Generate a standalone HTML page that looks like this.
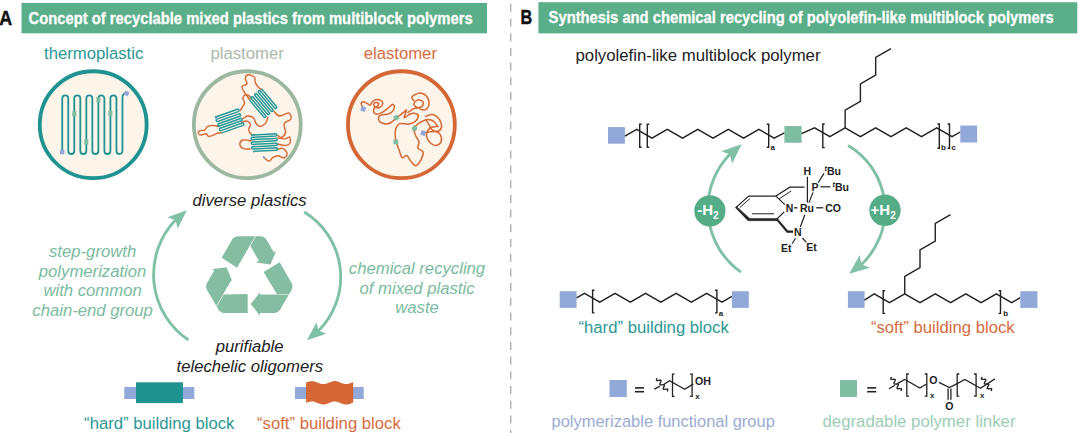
<!DOCTYPE html>
<html><head><meta charset="utf-8"><title>Recyclable multiblock polymers</title>
<style>html,body{margin:0;padding:0;background:#fff}svg{display:block}text{font-family:"Liberation Sans",sans-serif}</style>
</head><body>
<svg width="1080" height="433" viewBox="0 0 1080 433">
<rect width="1080" height="433" fill="#fff"/>
<rect x="21.5" y="3" width="465.5" height="30.3" fill="#5BAE8A"/>
<rect x="538.4" y="2.2" width="538.9" height="31.2" fill="#5BAE8A"/>
<text x="28.6" y="24.2" fill="#fff" font-size="17.4" font-weight="bold" text-anchor="start" textLength="444" lengthAdjust="spacingAndGlyphs" stroke="#fff" stroke-width="0.3">Concept of recyclable mixed plastics from multiblock polymers</text>
<text x="548.6" y="22.6" fill="#fff" font-size="17.4" font-weight="bold" text-anchor="start" textLength="505" lengthAdjust="spacingAndGlyphs" stroke="#fff" stroke-width="0.3">Synthesis and chemical recycling of polyolefin-like multiblock polymers</text>
<text x="-0.8" y="24.9" fill="#111" font-size="20.6" font-weight="bold" text-anchor="start" textLength="12.9" lengthAdjust="spacingAndGlyphs" stroke="#111" stroke-width="0.45">A</text>
<text x="520.5" y="24.2" fill="#111" font-size="20.6" font-weight="bold" text-anchor="start" textLength="11.7" lengthAdjust="spacingAndGlyphs" stroke="#111" stroke-width="0.45">B</text>
<line x1="510.7" y1="3.8" x2="510.7" y2="433" stroke="#b3b3b3" stroke-width="1.5" stroke-dasharray="8 6.7"/>
<text x="44" y="58.9" fill="#2C9795" font-size="16.7" text-anchor="start" >thermoplastic</text>
<text x="210.5" y="58.9" fill="#A9B9A9" font-size="16.7" text-anchor="start" >plastomer</text>
<text x="363.7" y="58.9" fill="#D66C3E" font-size="16.7" text-anchor="start" >elastomer</text>
<circle cx="93.2" cy="124.7" r="53.45" fill="#FDF4EA" stroke="#1F9390" stroke-width="3.8"/>
<circle cx="247.3" cy="124.7" r="53.45" fill="#FDF4EA" stroke="#9DB8A0" stroke-width="3.8"/>
<circle cx="401.4" cy="124.7" r="53.45" fill="#FDF4EA" stroke="#D56736" stroke-width="3.8"/>
<path d="M62.25,151.5 V98.41000000000001 A3.01,3.01 0 0 1 68.27,98.41000000000001 V150.99 A3.01,3.01 0 0 0 74.29,150.99 V98.41000000000001 A3.01,3.01 0 0 1 80.31,98.41000000000001 V150.99 A3.01,3.01 0 0 0 86.33,150.99 V98.41000000000001 A3.01,3.01 0 0 1 92.35,98.41000000000001 V150.99 A3.01,3.01 0 0 0 98.37,150.99 V98.41000000000001 A3.01,3.01 0 0 1 104.39,98.41000000000001 V150.99 A3.01,3.01 0 0 0 110.41,150.99 V98.41000000000001 A3.01,3.01 0 0 1 116.43,98.41000000000001 V150.99 A3.01,3.01 0 0 0 122.45,150.99 V97.9 Q122.44999999999996,93.9 125.94999999999996,92.9" fill="none" stroke="#1F9390" stroke-width="1.8"/>
<rect x="96.4" y="97.0" width="4.0" height="5.4" fill="#7EBDA2"/>
<rect x="72.3" y="111.0" width="4.0" height="5.4" fill="#7EBDA2"/>
<rect x="108.4" y="111.0" width="4.0" height="5.4" fill="#7EBDA2"/>
<rect x="84.3" y="139.10000000000002" width="4.0" height="5.4" fill="#7EBDA2"/>
<rect x="60.0" y="149.8" width="4.4" height="4.4" fill="#92A8D9" transform="rotate(0 62.25 152.0)"/>
<rect x="124.4" y="91.2" width="4.4" height="4.4" fill="#92A8D9" transform="rotate(20 126.6 93.4)"/>
<path d="M219.2,126.6 C218.0,126.4 214.0,125.4 212.0,125.4 C210.0,125.5 208.3,126.1 207.1,126.9 C205.9,127.7 205.9,129.5 204.7,130.1 C203.5,130.8 200.9,130.1 199.8,130.6 C198.8,131.2 198.0,132.6 198.2,133.4 C198.4,134.1 199.8,134.9 201.1,135.0 C202.5,135.0 205.1,133.5 206.3,133.7 C207.5,133.9 207.1,136.0 208.3,136.3 C209.4,136.5 211.7,135.8 213.1,135.3 C214.5,134.8 215.4,133.8 216.8,133.4 C218.3,132.9 220.9,132.8 221.7,132.7 " fill="none" stroke="#D56736" stroke-width="1.4" stroke-linejoin="round" stroke-linecap="round"/>
<path d="M240.3,110.4 C241.0,109.2 244.0,105.2 244.5,103.1 C244.9,101.1 242.7,99.7 242.8,98.3 C243.0,96.9 244.4,95.0 245.4,94.6 C246.5,94.2 248.1,95.1 249.2,95.9 C250.2,96.6 251.2,98.6 251.6,99.1 " fill="none" stroke="#D56736" stroke-width="1.4" stroke-linejoin="round" stroke-linecap="round"/>
<path d="M249.5,99.4 C248.5,98.0 244.6,92.9 243.4,90.7 C242.2,88.5 241.5,87.3 242.1,86.2 C242.7,85.0 246.4,85.2 247.0,83.9 C247.5,82.6 245.2,79.9 245.3,78.4 C245.5,76.9 246.4,75.1 247.9,74.8 C249.4,74.6 253.2,75.8 254.4,77.1 C255.6,78.5 254.6,81.1 255.4,82.9 C256.2,84.8 258.1,87.0 259.2,88.1 C260.4,89.2 261.7,89.5 262.2,89.7 " fill="none" stroke="#D56736" stroke-width="1.4" stroke-linejoin="round" stroke-linecap="round"/>
<path d="M241.7,122.3 C242.6,122.1 245.4,120.8 246.8,121.1 C248.3,121.5 250.1,123.0 250.4,124.4 C250.7,125.8 248.6,128.0 248.6,129.5 C248.7,131.1 249.9,132.7 250.7,133.7 C251.5,134.7 253.0,135.2 253.4,135.5 " fill="none" stroke="#D56736" stroke-width="1.4" stroke-linejoin="round" stroke-linecap="round"/>
<path d="M267.9,117.2 C267.5,118.2 267.0,121.4 265.8,122.9 C264.5,124.5 261.9,126.4 260.3,126.5 C258.7,126.6 257.3,125.0 256.1,123.5 C255.0,122.1 254.9,119.1 253.4,117.8 C252.0,116.6 249.1,115.9 247.4,116.0 C245.8,116.1 244.2,117.9 243.5,118.3 " fill="none" stroke="#D56736" stroke-width="1.4" stroke-linejoin="round" stroke-linecap="round"/>
<path d="M251.0,140.8 C249.7,140.7 244.8,139.5 242.9,140.0 C241.1,140.6 239.8,142.5 239.8,143.9 C239.8,145.3 241.2,147.6 242.9,148.4 C244.7,149.3 248.9,148.9 250.1,149.0 " fill="none" stroke="#D56736" stroke-width="1.4" stroke-linejoin="round" stroke-linecap="round"/>
<path d="M273.9,111.2 C274.8,112.0 277.1,115.7 279.6,116.0 C282.0,116.3 286.7,112.5 288.6,113.0 C290.5,113.5 291.7,117.3 291.0,119.0 C290.2,120.8 285.0,121.3 284.1,123.5 C283.2,125.8 286.0,130.2 285.6,132.5 C285.1,134.8 282.7,136.8 281.4,137.3 C280.1,137.8 278.4,135.8 277.8,135.5 " fill="none" stroke="#D56736" stroke-width="1.4" stroke-linejoin="round" stroke-linecap="round"/>
<path d="M277.3,137.9 C278.7,138.1 283.5,139.0 285.6,138.8 C287.6,138.7 288.7,136.3 289.5,137.0 C290.2,137.7 290.7,141.6 290.1,143.0 C289.4,144.4 287.7,145.3 285.6,145.4 C283.4,145.6 278.6,144.2 277.2,143.9 " fill="none" stroke="#D56736" stroke-width="1.4" stroke-linejoin="round" stroke-linecap="round"/>
<path d="M276.3,149.9 C277.3,149.7 280.8,147.7 282.6,148.3 C284.4,148.9 286.8,151.9 287.1,153.5 C287.3,155.2 285.6,157.7 284.1,158.0 C282.6,158.4 279.9,155.9 278.1,155.8 C276.2,155.7 274.5,156.6 273.0,157.4 C271.5,158.3 270.6,161.1 269.1,161.1 C267.6,161.1 264.8,158.0 263.9,157.4 " fill="none" stroke="#D56736" stroke-width="1.4" stroke-linejoin="round" stroke-linecap="round"/>
<circle cx="263.9" cy="157.3" r="1.2" fill="#92A8D9"/>
<circle cx="215.9" cy="117.6" r="1.2" fill="#92A8D9"/>
<path d="M-12.50,-8.51 H11.29 A1.215,1.215 0 0 1 11.29,-6.08 H-11.29 A1.215,1.215 0 0 0 -11.29,-3.65 H11.29 A1.215,1.215 0 0 1 11.29,-1.22 H-11.29 A1.215,1.215 0 0 0 -11.29,1.21 H11.29 A1.215,1.215 0 0 1 11.29,3.64 H-11.29 A1.215,1.215 0 0 0 -11.29,6.07 H11.29 A1.215,1.215 0 0 1 11.29,8.50 H-11.29 " fill="none" stroke="#279B99" stroke-width="1.5" transform="translate(229.6 121.1) rotate(-19.5)"/>
<path d="M-12.25,-8.22 H11.07 A1.175,1.175 0 0 1 11.07,-5.88 H-11.07 A1.175,1.175 0 0 0 -11.07,-3.52 H11.07 A1.175,1.175 0 0 1 11.07,-1.17 H-11.07 A1.175,1.175 0 0 0 -11.07,1.18 H11.07 A1.175,1.175 0 0 1 11.07,3.53 H-11.07 A1.175,1.175 0 0 0 -11.07,5.88 H11.07 A1.175,1.175 0 0 1 11.07,8.22 H-11.07 " fill="none" stroke="#279B99" stroke-width="1.5" transform="translate(263 103.3) rotate(50)"/>
<path d="M-13.00,-8.22 H11.82 A1.175,1.175 0 0 1 11.82,-5.88 H-11.82 A1.175,1.175 0 0 0 -11.82,-3.52 H11.82 A1.175,1.175 0 0 1 11.82,-1.17 H-11.82 A1.175,1.175 0 0 0 -11.82,1.18 H11.82 A1.175,1.175 0 0 1 11.82,3.53 H-11.82 A1.175,1.175 0 0 0 -11.82,5.88 H11.82 A1.175,1.175 0 0 1 11.82,8.22 H-11.82 " fill="none" stroke="#279B99" stroke-width="1.5" transform="translate(264.3 142.6) rotate(-3)"/>
<path d="M363.6,108.7 C363.2,107.9 361.3,105.0 361.2,103.8 C361.2,102.7 362.4,101.9 363.3,101.8 C364.2,101.7 365.6,102.6 366.8,103.2 C367.9,103.7 369.3,105.5 370.2,105.2 C371.1,105.0 371.4,102.7 372.3,101.8 C373.2,100.9 374.4,99.9 375.8,99.7 C377.2,99.5 379.5,99.7 380.6,100.4 C381.8,101.1 382.8,102.7 382.7,103.8 C382.6,105.0 381.1,106.7 379.9,107.3 C378.8,107.9 376.8,107.8 375.8,107.3 C374.7,106.9 373.7,105.4 373.7,104.5 C373.7,103.7 374.9,102.6 375.8,102.5 C376.6,102.3 378.6,102.9 378.8,103.6 C379.1,104.3 377.9,105.9 377.2,106.6 C376.4,107.4 375.0,107.1 374.4,108.0 C373.8,108.9 373.2,111.1 373.7,112.2 C374.2,113.2 375.7,114.2 377.2,114.2 C378.7,114.2 380.9,113.2 382.7,112.2 C384.5,111.1 386.6,109.3 388.2,108.0 C389.9,106.7 391.3,104.8 392.4,104.5 C393.4,104.3 394.5,105.5 394.5,106.6 C394.5,107.8 393.5,110.2 392.4,111.5 C391.2,112.7 389.4,113.7 387.6,114.2 C385.7,114.8 382.8,114.3 381.3,114.9 C379.8,115.5 378.8,116.5 378.5,117.7 C378.3,118.8 378.8,120.8 379.9,121.9 C381.1,122.9 383.6,123.8 385.5,123.9 C387.3,124.1 389.3,123.5 391.0,122.5 C392.7,121.6 393.9,120.0 395.9,118.4 C397.9,116.8 401.2,114.3 402.9,112.9 C404.7,111.5 406.3,109.4 406.5,110.1 C406.7,110.9 403.7,116.9 404.1,117.6 C404.6,118.3 407.5,115.2 409.2,114.5 C410.9,113.7 412.8,113.1 414.3,113.3 C415.8,113.5 418.1,114.3 418.3,115.6 C418.4,117.0 416.8,120.1 415.1,121.5 C413.4,123.0 410.5,124.0 408.0,124.3 C405.6,124.6 402.2,123.0 400.2,123.5 C398.2,124.0 397.1,125.7 396.3,127.4 C395.4,129.2 395.1,131.7 395.1,134.1 C395.1,136.5 395.6,139.4 396.3,142.0 C396.9,144.6 398.0,147.2 399.0,149.8 C400.0,152.5 400.8,156.7 402.2,157.7 C403.5,158.7 405.2,154.9 406.9,155.7 C408.5,156.6 410.4,161.2 412.0,162.8 C413.5,164.4 414.7,166.3 416.3,165.6 C417.9,164.8 420.7,160.4 421.8,158.1 C422.9,155.8 423.6,153.5 423.0,151.8 C422.3,150.1 418.5,149.5 417.9,147.9 C417.2,146.2 419.4,143.9 419.0,142.0 C418.7,140.0 416.8,138.3 415.9,136.1 C415.1,133.9 413.3,130.8 413.9,128.6 C414.6,126.4 417.5,124.2 419.8,122.7 C422.1,121.2 425.3,119.8 427.7,119.6 C430.0,119.4 432.3,120.4 434.0,121.5 C435.7,122.7 437.3,125.8 437.9,126.7 " fill="none" stroke="#D56736" stroke-width="1.5" stroke-linejoin="round" stroke-linecap="round"/>
<path d="M408.0,112.5 C409.0,111.9 411.6,109.6 413.9,108.6 C416.2,107.6 420.3,107.7 421.8,106.6 C423.3,105.5 423.6,103.0 423.0,101.9 C422.3,100.8 419.4,99.6 417.9,99.9 C416.4,100.3 413.9,102.6 413.9,103.9 C413.9,105.2 416.0,106.8 417.9,107.8 C419.7,108.8 423.1,110.3 424.9,109.8 C426.8,109.2 428.5,106.8 428.9,104.6 C429.2,102.5 428.4,98.8 426.9,96.8 C425.4,94.8 422.3,92.9 419.8,92.9 C417.3,92.9 413.0,95.5 412.0,96.8 C411.0,98.1 413.6,100.1 413.9,100.7 " fill="none" stroke="#D56736" stroke-width="1.5" stroke-linejoin="round" stroke-linecap="round"/>
<path d="M425.7,116.4 C426.9,116.1 430.5,113.9 432.8,114.5 C435.1,115.0 438.0,117.4 439.5,119.6 C440.9,121.7 441.8,125.5 441.4,127.4 C441.1,129.4 439.2,131.0 437.5,131.4 C435.9,131.7 433.1,130.6 431.6,129.4 C430.2,128.2 429.9,125.9 428.9,124.3 C427.9,122.7 426.3,120.4 425.7,119.6 " fill="none" stroke="#D56736" stroke-width="1.5" stroke-linejoin="round" stroke-linecap="round"/>
<path d="M423.2,133.1 C424.3,132.9 427.3,131.9 429.7,131.8 C432.0,131.6 435.6,131.1 437.5,132.2 C439.5,133.2 441.1,136.1 441.4,138.0 C441.8,140.0 440.8,142.8 439.5,143.9 C438.2,145.1 435.4,145.6 433.6,145.1 C431.8,144.7 430.0,142.8 428.9,141.2 C427.7,139.6 426.4,137.8 426.5,135.7 C426.6,133.5 427.8,129.8 429.7,128.2 C431.5,126.7 436.2,126.6 437.5,126.3 " fill="none" stroke="#D56736" stroke-width="1.5" stroke-linejoin="round" stroke-linecap="round"/>
<rect x="393.9" y="115.2" width="4.8" height="4.8" fill="#7EBDA2" transform="rotate(-25 396.2573673870334 117.61296660117878)"/>
<rect x="393.5" y="139.6" width="4.8" height="4.8" fill="#7EBDA2" transform="rotate(0 395.86444007858546 141.9744597249509)"/>
<rect x="412.1" y="126.0" width="4.8" height="4.8" fill="#7EBDA2" transform="rotate(20 414.5284872298625 128.41846758349706)"/>
<rect x="360.9" y="106.6" width="4.8" height="4.8" fill="#92A8D9" transform="rotate(20 363.2514734774067 108.96856581532417)"/>
<rect x="420.8" y="130.7" width="4.8" height="4.8" fill="#92A8D9" transform="rotate(20 423.1728880157171 133.13359528487229)"/>
<text x="192.5" y="206" fill="#222" font-size="16.7" font-style="italic" text-anchor="start" >diverse plastics</text>
<text x="92.6" y="256.6" fill="#7ABBA0" font-size="16.7" font-style="italic" text-anchor="middle" >step-growth</text>
<text x="92.6" y="276.5" fill="#7ABBA0" font-size="16.7" font-style="italic" text-anchor="middle" >polymerization</text>
<text x="92.6" y="296.4" fill="#7ABBA0" font-size="16.7" font-style="italic" text-anchor="middle" >with common</text>
<text x="92.6" y="316.4" fill="#7ABBA0" font-size="16.7" font-style="italic" text-anchor="middle" >chain-end group</text>
<text x="417" y="273.6" fill="#7ABBA0" font-size="16.7" font-style="italic" text-anchor="middle" >chemical recycling</text>
<text x="417" y="293.5" fill="#7ABBA0" font-size="16.7" font-style="italic" text-anchor="middle" >of mixed plastic</text>
<text x="417" y="313.3" fill="#7ABBA0" font-size="16.7" font-style="italic" text-anchor="middle" >waste</text>
<text x="249.6" y="352.0" fill="#222" font-size="16.7" font-style="italic" text-anchor="middle" >purifiable</text>
<text x="249.8" y="371.7" fill="#222" font-size="16.7" font-style="italic" text-anchor="middle" >telechelic oligomers</text>
<path d="M221.66,257.68 L231.90,239.94 Q234.00,236.30 238.20,236.30 L255.25,236.30 L237.09,267.74 Z M255.95,236.30 L260.40,236.30 Q264.60,236.30 266.70,239.94 L273.79,252.22 L276.22,250.82 L270.50,264.51 L255.78,262.62 L258.90,260.82 L250.34,246.01 Z M279.59,262.27 L291.48,282.86 Q293.58,286.50 291.48,290.14 L289.26,293.99 L276.90,293.99 L263.56,272.10 Z M288.91,294.60 L280.38,309.36 Q278.28,313.00 274.08,313.00 L259.90,313.00 L259.90,315.80 L250.90,304.00 L259.90,292.20 L259.90,294.60 Z M247.70,313.00 L224.52,313.00 Q220.32,313.00 218.22,309.36 L216.68,306.71 L223.67,294.61 L247.70,294.00 Z M216.33,306.10 L207.12,290.14 Q205.02,286.50 207.12,282.86 L214.21,270.58 L211.78,269.18 L226.50,267.29 L232.22,280.98 L231.18,280.38 Z " fill="#85BDA2"/>
<path d="M188.38,340.01 A78.9,78.9 0 0 1 175.46,220.08" fill="none" stroke="#80C1A6" stroke-width="2.9"/>
<path d="M186.79,210.29 L177.74,228.64 L175.64,220.31 L167.58,217.33 Z" fill="#80C1A6"/>
<path d="M304.20,212.06 A76.2,76.2 0 0 1 318.55,330.81" fill="none" stroke="#80C1A6" stroke-width="2.9"/>
<path d="M307.00,340.35 L316.46,322.20 L318.38,330.57 L326.36,333.73 Z" fill="#80C1A6"/>
<rect x="124.3" y="387" width="70" height="12" fill="#92A8D9"/>
<rect x="136" y="382.3" width="46.9" height="20.8" fill="#1F9390"/>
<rect x="295" y="387" width="68.7" height="12" fill="#92A8D9"/>
<path d="M306.1,382.6 L307.3,382.1 L308.5,381.7 L309.6,381.4 L310.8,381.2 L312.0,381.1 L313.2,381.2 L314.3,381.4 L315.5,381.8 L316.7,382.3 L317.9,382.7 L319.1,383.2 L320.2,383.6 L321.4,383.9 L322.6,384.1 L323.8,384.1 L324.9,384.0 L326.1,383.7 L327.3,383.3 L328.5,382.8 L329.6,382.4 L330.8,381.9 L332.0,381.5 L333.2,381.2 L334.4,381.1 L335.5,381.1 L336.7,381.3 L337.9,381.6 L339.1,382.0 L340.2,382.5 L341.4,383.0 L342.6,383.4 L343.8,383.8 L345.0,384.0 L346.1,384.1 L347.3,384.0 L348.5,383.8 L349.7,383.5 L350.8,383.1 L352.0,382.6 L353.2,382.1 L353.2,402.5 L352.0,403.0 L350.8,403.5 L349.7,403.9 L348.5,404.2 L347.3,404.4 L346.1,404.5 L345.0,404.4 L343.8,404.2 L342.6,403.8 L341.4,403.4 L340.2,402.9 L339.1,402.4 L337.9,402.0 L336.7,401.7 L335.5,401.5 L334.4,401.5 L333.2,401.6 L332.0,401.9 L330.8,402.3 L329.6,402.8 L328.5,403.2 L327.3,403.7 L326.1,404.1 L324.9,404.4 L323.8,404.5 L322.6,404.5 L321.4,404.3 L320.2,404.0 L319.1,403.6 L317.9,403.1 L316.7,402.7 L315.5,402.2 L314.3,401.8 L313.2,401.6 L312.0,401.5 L310.8,401.6 L309.6,401.8 L308.5,402.1 L307.3,402.5 L306.1,403.0Z" fill="#D56736"/>
<text x="84.1" y="429.1" fill="#2C9795" font-size="16.7" text-anchor="start" >“hard” building block</text>
<text x="257" y="429.1" fill="#D66C3E" font-size="16.7" text-anchor="start" >“soft” building block</text>
<text x="575.5" y="61.0" fill="#222" font-size="16.7" text-anchor="start" textLength="245" lengthAdjust="spacingAndGlyphs">polyolefin-like multiblock polymer</text>
<rect x="608.0" y="127.1" width="16.9" height="16.6" fill="#92A8D9"/>
<path d="M624.90,136.20 L636.70,129.30 L651.97,138.10 L667.24,129.30 L682.51,138.10 L697.78,129.30 L713.05,138.10 L728.32,129.30 L743.59,138.10 L758.86,129.30 L774.13,138.10 L784.40,132.90" fill="none" stroke="#222" stroke-width="1.4" stroke-linejoin="miter"/>
<path d="M641.60,124.30 L639.70,124.30 L639.70,147.30 L641.60,147.30" fill="none" stroke="#222" stroke-width="1.4" stroke-linejoin="miter"/>
<path d="M649.20,124.30 L647.30,124.30 L647.30,147.30 L649.20,147.30" fill="none" stroke="#222" stroke-width="1.4" stroke-linejoin="miter"/>
<path d="M766.80,124.30 L768.70,124.30 L768.70,147.30 L766.80,147.30" fill="none" stroke="#222" stroke-width="1.4" stroke-linejoin="miter"/>
<text x="770.6" y="150.2" fill="#222" font-size="8.0" font-weight="bold" text-anchor="start" >a</text>
<rect x="784.4" y="126.0" width="17.2" height="16.8" fill="#7EBDA2"/>
<path d="M801.50,133.60 L814.60,127.80 L829.87,136.60 L845.14,127.80 L860.41,136.60 L875.68,127.80 L890.95,136.60 L906.22,127.80 L921.49,136.60 L936.76,127.80 L952.03,136.60 L960.30,132.00" fill="none" stroke="#222" stroke-width="1.4" stroke-linejoin="miter"/>
<path d="M845.14,127.80 L845.14,110.20 L860.41,101.40 L860.41,83.80 L875.68,75.00 L875.68,57.40 L890.95,48.60" fill="none" stroke="#222" stroke-width="1.4" stroke-linejoin="miter"/>
<path d="M824.70,124.00 L822.80,124.00 L822.80,147.60 L824.70,147.60" fill="none" stroke="#222" stroke-width="1.4" stroke-linejoin="miter"/>
<path d="M937.40,124.00 L939.30,124.00 L939.30,148.20 L937.40,148.20" fill="none" stroke="#222" stroke-width="1.4" stroke-linejoin="miter"/>
<path d="M947.60,124.00 L949.50,124.00 L949.50,148.20 L947.60,148.20" fill="none" stroke="#222" stroke-width="1.4" stroke-linejoin="miter"/>
<text x="941.0" y="149.6" fill="#222" font-size="8.0" font-weight="bold" text-anchor="start" >b</text>
<text x="951.4" y="149.6" fill="#222" font-size="8.0" font-weight="bold" text-anchor="start" >c</text>
<rect x="960.3" y="125.5" width="16.8" height="17" fill="#92A8D9"/>
<rect x="559.7" y="291.2" width="16.9" height="16.7" fill="#92A8D9"/>
<path d="M576.60,297.90 L584.50,293.40 L599.77,302.20 L615.04,293.40 L630.31,302.20 L645.58,293.40 L660.85,302.20 L676.12,293.40 L691.39,302.20 L706.66,293.40 L721.93,302.20 L731.90,296.30" fill="none" stroke="#222" stroke-width="1.4" stroke-linejoin="miter"/>
<path d="M594.50,290.30 L592.60,290.30 L592.60,312.90 L594.50,312.90" fill="none" stroke="#222" stroke-width="1.4" stroke-linejoin="miter"/>
<path d="M715.00,290.30 L716.90,290.30 L716.90,312.90 L715.00,312.90" fill="none" stroke="#222" stroke-width="1.4" stroke-linejoin="miter"/>
<text x="718.8" y="315.8" fill="#222" font-size="8.0" font-weight="bold" text-anchor="start" >a</text>
<rect x="731.9" y="291.2" width="16.9" height="16.7" fill="#92A8D9"/>
<text x="578.5" y="332.8" fill="#2C9795" font-size="16.7" text-anchor="start" >“hard” building block</text>
<g transform="translate(0.6 0.5)">
<rect x="847.3" y="290.7" width="16.7" height="16.7" fill="#92A8D9"/>
<path d="M863.90,299.70 L873.60,293.40 L888.87,302.20 L904.14,293.40 L919.41,302.20 L934.68,293.40 L949.95,302.20 L965.22,293.40 L980.49,302.20 L995.76,293.40 L1011.03,302.20 L1019.70,297.20" fill="none" stroke="#222" stroke-width="1.4" stroke-linejoin="miter"/>
<path d="M904.14,293.40 L904.14,275.80 L919.41,267.00 L919.41,249.40 L934.68,240.60 L934.68,223.00 L949.95,214.20" fill="none" stroke="#222" stroke-width="1.4" stroke-linejoin="miter"/>
<path d="M884.50,290.30 L882.60,290.30 L882.60,312.90 L884.50,312.90" fill="none" stroke="#222" stroke-width="1.4" stroke-linejoin="miter"/>
<path d="M998.00,290.30 L999.90,290.30 L999.90,312.90 L998.00,312.90" fill="none" stroke="#222" stroke-width="1.4" stroke-linejoin="miter"/>
<text x="1002.6" y="315.8" fill="#222" font-size="8.0" font-weight="bold" text-anchor="start" >b</text>
<rect x="1019.7" y="290.7" width="17.2" height="16.7" fill="#92A8D9"/>
</g>
<text x="870.9" y="333.2" fill="#D66C3E" font-size="16.7" text-anchor="start" >“soft” building block</text>
<path d="M740.94,272.14 A78.0,78.0 0 0 1 729.81,154.20" fill="none" stroke="#80C1A6" stroke-width="2.9"/>
<path d="M741.61,144.20 L732.11,163.65 L729.99,154.45 L721.12,151.21 Z" fill="#80C1A6"/>
<path d="M848.11,145.46 A74.9,74.9 0 0 1 861.52,264.46" fill="none" stroke="#80C1A6" stroke-width="2.9"/>
<path d="M849.24,273.86 L859.68,254.90 L861.35,264.19 L870.04,267.87 Z" fill="#80C1A6"/>
<circle cx="709.9" cy="210.9" r="15.6" fill="#55AD88"/>
<circle cx="885" cy="210.3" r="15.7" fill="#55AD88"/>
<text x="697.2" y="215.0" fill="#fff" font-size="15" font-weight="bold">-H<tspan font-size="10" dy="3.8">2</tspan></text>
<text x="870.6" y="215.0" fill="#fff" font-size="15" font-weight="bold">+H<tspan font-size="10" dy="3.8">2</tspan></text>
<path d="M736.10,207.40 L748.70,196.10 L775.90,196.10 L784.80,204.60" fill="none" stroke="#222" stroke-width="1.2" stroke-linejoin="miter"/>
<path d="M739.80,207.60 L750.00,198.60" fill="none" stroke="#222" stroke-width="1.0" stroke-linejoin="miter"/>
<path d="M752.00,213.80 L774.00,213.80" fill="none" stroke="#222" stroke-width="1.0" stroke-linejoin="miter"/>
<path d="M784.20,211.90 L776.40,219.50" fill="none" stroke="#222" stroke-width="1.2" stroke-linejoin="miter"/>
<path d="M735.30,207.50 L736.50,206.50 L749.70,218.40 L776.50,218.40 L777.40,220.70 L748.00,220.70Z" fill="#222" stroke="#222" stroke-width="0.5" stroke-linejoin="round"/>
<path d="M775.90,196.10 L789.80,187.20 L804.60,187.20" fill="none" stroke="#222" stroke-width="1.2" stroke-linejoin="miter"/>
<path d="M779.20,198.80 L791.20,191.00" fill="none" stroke="#222" stroke-width="1.0" stroke-linejoin="miter"/>
<path d="M775.60,219.20 L777.60,218.40 L788.00,230.60 L793.20,230.60 L793.20,232.80 L786.80,232.80Z" fill="#222"/>
<path d="M807.40,176.80 L807.40,202.60" fill="none" stroke="#222" stroke-width="1.2" stroke-linejoin="miter"/>
<path d="M813.00,192.40 L809.00,202.60" fill="none" stroke="#222" stroke-width="1.2" stroke-linejoin="miter"/>
<path d="M800.30,227.00 L804.90,214.80" fill="none" stroke="#222" stroke-width="1.2" stroke-linejoin="miter"/>
<path d="M818.20,182.80 L824.00,173.40" fill="none" stroke="#222" stroke-width="1.2" stroke-linejoin="miter"/>
<path d="M820.40,186.80 L830.40,186.80" fill="none" stroke="#222" stroke-width="1.2" stroke-linejoin="miter"/>
<path d="M794.20,207.80 L797.40,207.80" fill="none" stroke="#222" stroke-width="1.4" stroke-linejoin="miter"/>
<path d="M816.20,207.80 L823.20,207.80" fill="none" stroke="#222" stroke-width="1.3" stroke-linejoin="miter"/>
<path d="M795.60,238.20 L792.00,243.80" fill="none" stroke="#222" stroke-width="1.2" stroke-linejoin="miter"/>
<path d="M802.40,238.00 L806.40,242.40" fill="none" stroke="#222" stroke-width="1.2" stroke-linejoin="miter"/>
<text x="807.4" y="175.0" fill="#222" font-size="10.5" font-weight="bold" text-anchor="middle" >H</text>
<text x="815.0" y="190.7" fill="#222" font-size="10.5" font-weight="bold" text-anchor="middle" >P</text>
<text x="789.5" y="211.5" fill="#222" font-size="10.5" font-weight="bold" text-anchor="middle" >N</text>
<text x="807.0" y="211.5" fill="#222" font-size="10.5" font-weight="bold" text-anchor="middle" >Ru</text>
<text x="833.0" y="211.5" fill="#222" font-size="10.5" font-weight="bold" text-anchor="middle" >CO</text>
<text x="797.9" y="236.4" fill="#222" font-size="10.5" font-weight="bold" text-anchor="middle" >N</text>
<text x="786.3" y="251.9" fill="#222" font-size="10.5" font-weight="bold" text-anchor="middle" >Et</text>
<text x="811.5" y="250.7" fill="#222" font-size="10.5" font-weight="bold" text-anchor="middle" >Et</text>
<text x="824.6" y="175.0" fill="#222" font-size="10.5" font-weight="bold"><tspan font-size="7.2" font-style="italic" dy="-3.6">t</tspan><tspan dy="3.6">Bu</tspan></text>
<text x="832.6" y="190.8" fill="#222" font-size="10.5" font-weight="bold"><tspan font-size="7.2" font-style="italic" dy="-3.6">t</tspan><tspan dy="3.6">Bu</tspan></text>
<rect x="609.5" y="380" width="17.3" height="17" fill="#92A8D9"/>
<rect x="840" y="380" width="17" height="17" fill="#7EBDA2"/>
<rect x="635" y="387.1" width="9.0" height="1.6" fill="#222"/>
<rect x="635" y="390.9" width="9.0" height="1.6" fill="#222"/>
<rect x="867.2" y="387.1" width="9.0" height="1.6" fill="#222"/>
<rect x="867.2" y="390.9" width="9.0" height="1.6" fill="#222"/>
<path d="M657.00,378.20 L656.61,379.09 L656.40,379.83 L656.50,380.34 L656.97,380.57 L657.74,380.55 L658.70,380.40 L659.66,380.25 L660.43,380.23 L660.90,380.46 L661.00,380.97 L660.79,381.71 L660.40,382.60 L660.01,383.49 L659.80,384.23 L659.90,384.74 L660.37,384.97 L661.14,384.95 L662.10,384.80 L663.06,384.65 L663.83,384.63 L664.30,384.86 L664.40,385.37 L664.19,386.11 L663.80,387.00 L663.41,387.89 L663.20,388.63 L663.30,389.14 L663.77,389.37 L664.54,389.35 L665.50,389.20 L666.46,389.05 L667.23,389.03 L667.70,389.26 L667.80,389.77 L667.59,390.51 L667.20,391.40" fill="none" stroke="#222" stroke-width="1.35" stroke-linejoin="round"/>
<path d="M654.20,389.20 L659.80,386.40" fill="none" stroke="#222" stroke-width="1.3" stroke-linejoin="miter"/>
<path d="M663.30,384.80 L669.60,380.70 L684.70,389.20 L693.40,383.90" fill="none" stroke="#222" stroke-width="1.3" stroke-linejoin="miter"/>
<path d="M674.60,374.20 L672.50,374.20 L672.50,396.40 L674.60,396.40" fill="none" stroke="#222" stroke-width="1.3" stroke-linejoin="miter"/>
<path d="M690.00,374.20 L692.10,374.20 L692.10,396.40 L690.00,396.40" fill="none" stroke="#222" stroke-width="1.3" stroke-linejoin="miter"/>
<text x="695.0" y="384.5" fill="#222" font-size="10.6" font-weight="bold" text-anchor="start" >OH</text>
<text x="695.2" y="398.5" fill="#222" font-size="7.8" font-weight="bold" text-anchor="start" >x</text>
<path d="M891.50,377.00 L891.05,377.86 L890.79,378.59 L890.86,379.11 L891.31,379.37 L892.08,379.41 L893.05,379.33 L894.02,379.25 L894.79,379.30 L895.24,379.56 L895.31,380.07 L895.05,380.81 L894.60,381.67 L894.15,382.53 L893.89,383.26 L893.96,383.77 L894.41,384.04 L895.18,384.08 L896.15,384.00 L897.12,383.92 L897.89,383.96 L898.34,384.23 L898.41,384.74 L898.15,385.47 L897.70,386.33 L897.25,387.19 L896.99,387.93 L897.06,388.44 L897.51,388.70 L898.28,388.75 L899.25,388.67 L900.22,388.59 L900.99,388.63 L901.44,388.89 L901.51,389.41 L901.25,390.14 L900.80,391.00" fill="none" stroke="#222" stroke-width="1.35" stroke-linejoin="round"/>
<path d="M889.00,388.70 L895.00,385.20" fill="none" stroke="#222" stroke-width="1.3" stroke-linejoin="miter"/>
<path d="M897.30,383.60 L904.80,379.40 L919.80,388.10 L926.60,384.00" fill="none" stroke="#222" stroke-width="1.3" stroke-linejoin="miter"/>
<path d="M908.90,374.00 L906.80,374.00 L906.80,396.20 L908.90,396.20" fill="none" stroke="#222" stroke-width="1.3" stroke-linejoin="miter"/>
<path d="M924.70,374.00 L926.80,374.00 L926.80,396.20 L924.70,396.20" fill="none" stroke="#222" stroke-width="1.3" stroke-linejoin="miter"/>
<text x="930.0" y="398.0" fill="#222" font-size="7.8" font-weight="bold" text-anchor="start" >x</text>
<text x="929.3" y="384.4" fill="#222" font-size="10.6" font-weight="bold" text-anchor="start" >O</text>
<path d="M938.90,382.30 L949.40,387.60 L956.20,384.10 L964.90,379.40 L980.50,388.20 L994.90,378.90" fill="none" stroke="#222" stroke-width="1.3" stroke-linejoin="miter"/>
<path d="M948.10,388.40 L948.10,399.80" fill="none" stroke="#222" stroke-width="1.3" stroke-linejoin="miter"/>
<path d="M950.90,388.40 L950.90,399.80" fill="none" stroke="#222" stroke-width="1.3" stroke-linejoin="miter"/>
<text x="945.2" y="409.9" fill="#222" font-size="10.6" font-weight="bold" text-anchor="start" >O</text>
<path d="M959.30,374.00 L957.20,374.00 L957.20,396.20 L959.30,396.20" fill="none" stroke="#222" stroke-width="1.3" stroke-linejoin="miter"/>
<path d="M974.00,374.00 L976.10,374.00 L976.10,396.20 L974.00,396.20" fill="none" stroke="#222" stroke-width="1.3" stroke-linejoin="miter"/>
<text x="980.1" y="398.0" fill="#222" font-size="7.8" font-weight="bold" text-anchor="start" >x</text>
<path d="M982.20,377.00 L981.72,377.84 L981.43,378.55 L981.48,379.06 L981.92,379.33 L982.69,379.39 L983.65,379.33 L984.61,379.27 L985.38,379.33 L985.82,379.60 L985.87,380.11 L985.58,380.83 L985.10,381.67 L984.62,382.50 L984.33,383.22 L984.38,383.73 L984.82,384.00 L985.59,384.06 L986.55,384.00 L987.51,383.94 L988.28,384.00 L988.72,384.27 L988.77,384.78 L988.48,385.50 L988.00,386.33 L987.52,387.17 L987.23,387.89 L987.28,388.40 L987.72,388.67 L988.49,388.73 L989.45,388.67 L990.41,388.61 L991.18,388.67 L991.62,388.94 L991.67,389.45 L991.38,390.16 L990.90,391.00" fill="none" stroke="#222" stroke-width="1.35" stroke-linejoin="round"/>
<text x="551.5" y="427.3" fill="#9AACD2" font-size="16.7" text-anchor="start" textLength="223.3" lengthAdjust="spacingAndGlyphs">polymerizable functional group</text>
<text x="822.5" y="427.3" fill="#9CCDB5" font-size="16.7" text-anchor="start" textLength="193" lengthAdjust="spacingAndGlyphs">degradable polymer linker</text>
</svg>
</body></html>
